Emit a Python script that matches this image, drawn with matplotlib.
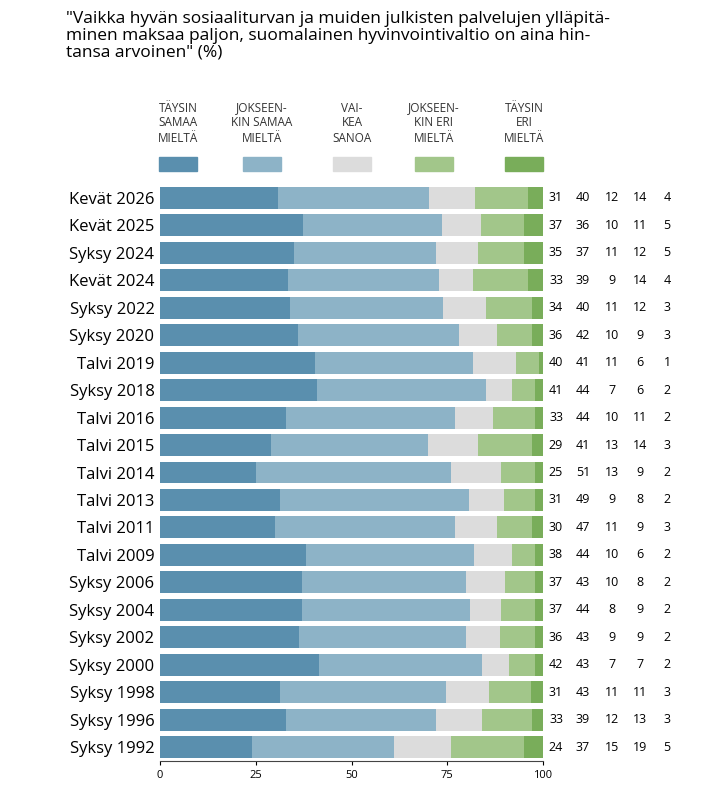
import matplotlib
matplotlib.use("Agg")
import matplotlib.pyplot as plt
import numpy as np

plt.rcParams['font.family'] = ['Open Sans', 'DejaVu Sans']

labels = ["Kevät 2026","Kevät 2025","Syksy 2024","Kevät 2024","Syksy 2022","Syksy 2020",
          "Talvi 2019","Syksy 2018","Talvi 2016","Talvi 2015","Talvi 2014","Talvi 2013",
          "Talvi 2011","Talvi 2009","Syksy 2006","Syksy 2004","Syksy 2002","Syksy 2000",
          "Syksy 1998","Syksy 1996","Syksy 1992"]
taysin_samaa = [31,37,35,33,34,36,40,41,33,29,25,31,30,38,37,37,36,42,31,33,24]
jokseenkin_samaa = [40,36,37,39,40,42,41,44,44,41,51,49,47,44,43,44,43,43,43,39,37]
vaikea = [12,10,11,9,11,10,11,7,10,13,13,9,11,10,10,8,9,7,11,12,15]
jokseenkin_eri = [14,11,12,14,12,9,6,6,11,14,9,8,9,6,8,9,9,7,11,13,19]
taysin_eri = [4,5,5,4,3,3,1,2,2,3,2,2,3,2,2,2,2,2,3,3,5]
series = [taysin_samaa, jokseenkin_samaa, vaikea, jokseenkin_eri, taysin_eri]
names = ["TÄYSIN\nSAMAA\nMIELTÄ","JOKSEEN-\nKIN SAMAA\nMIELTÄ","VAI-\nKEA\nSANOA","JOKSEEN-\nKIN ERI\nMIELTÄ","TÄYSIN\nERI\nMIELTÄ"]
colors = ["#5a8fae","#8db3c7","#dcdcdc","#a2c68a","#79ad5a"]

W, H = 720, 797
fig = plt.figure(figsize=(W/100, H/100), dpi=100)
ax = fig.add_axes([160/W, 1-761/H, 383/W, (761-184)/H])
data = np.array(series, dtype=float)
norm = data / data.sum(axis=0) * 100
y = np.arange(len(labels))
left = np.zeros(len(labels))
for i in range(5):
    ax.barh(y, norm[i], left=left, color=colors[i], height=0.8)
    left += norm[i]
ax.set_ylim(len(labels)-0.5, -0.5)
ax.set_xlim(0, 100)
ax.set_yticks(y)
ax.set_yticklabels(labels, fontsize=12)
ax.set_xticks([0,25,50,75,100])
ax.tick_params(axis='x', labelsize=8, length=3)
ax.tick_params(axis='y', length=0, pad=4)
for s in ['top','right','left']:
    ax.spines[s].set_visible(False)
ax.spines['bottom'].set_color('#444444')

colx = [556, 583, 612, 640, 667]
for i in range(5):
    for j in range(len(labels)):
        ax.text((colx[i]-160)/383*100, j, str(series[i][j]), ha='center', va='center',
                fontsize=9, clip_on=False)

legx = [178, 262, 352, 434, 524]
for i in range(5):
    fig.text(legx[i]/W, 1-123/H, names[i], ha='center', va='center', fontsize=8.5,
             color='#333333', linespacing=1.2)
    fig.patches.append(plt.Rectangle(((legx[i]-19)/W, 1-171/H), 38/W, 14/H,
                                     color=colors[i], transform=fig.transFigure))

fig.text(66/W, 1-36/H, '"Vaikka hyvän sosiaaliturvan ja muiden julkisten palvelujen ylläpitä-\nminen maksaa paljon, suomalainen hyvinvointivaltio on aina hin-\ntansa arvoinen" (%)',
         ha='left', va='center', fontsize=12.5, linespacing=1.05)
fig.savefig("out.png", dpi=100)
